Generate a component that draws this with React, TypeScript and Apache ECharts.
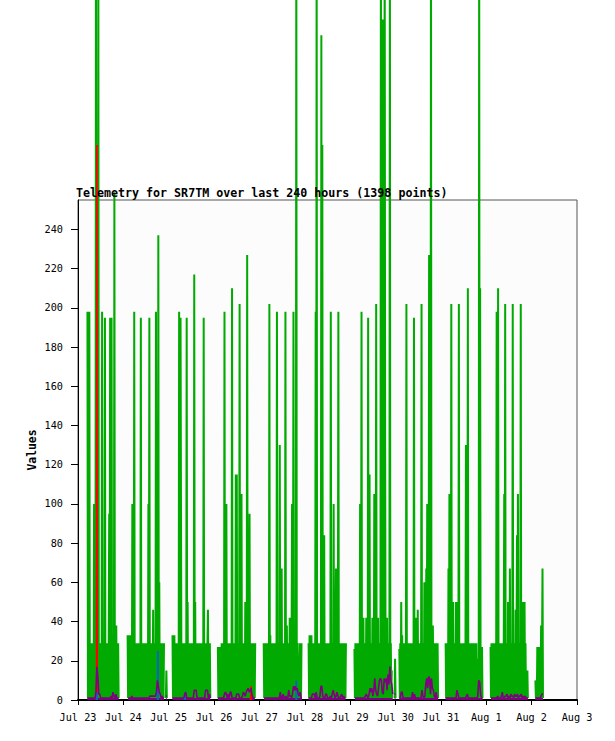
import React, { useEffect, useRef } from "react";
import * as echarts from "echarts";

const TITLE = "Telemetry for SR7TM over last 240 hours (1398 points)";
const Y_NAME = "Values";

// hours since Jul 23 00:00
const X_TICK_HOURS = [0, 24, 48, 72, 96, 120, 144, 168, 192, 216, 240, 264];
const X_TICK_LABELS = ["Jul 23", "Jul 24", "Jul 25", "Jul 26", "Jul 27", "Jul 28", "Jul 29", "Jul 30", "Jul 31", "Aug 1", "Aug 2", "Aug 3"];
const Y_TICKS = [0, 20, 40, 60, 80, 100, 120, 140, 160, 180, 200, 220, 240];

// green series: one character per 15-minute sample, segment start hours
const GREEN_STEP = 0.25;
const GREEN_LEVELS: Record<string, number> = {
  a: 1, d: 10, e: 15, f: 21, g: 26, h: 27, i: 33,
  A: 29, B: 38, C: 42, D: 46, E: 50, F: 60, G: 67, H: 77, I: 84, J: 95,
  K: 100, L: 105, M: 115, N: 130, O: 195, P: 198, Q: 202, R: 210, S: 217,
  T: 227, U: 237, V: 259, W: 283, X: 339, Y: 347, Z: 400,
};
const GREEN_STARTS = [5.0, 26.25, 46.5, 50.0, 74.0, 98.25, 122.0, 146.25, 167.5, 170.0, 194.5, 218.25, 242.0];
const GREEN_CODES = [
  "PaAaPaAaAa" + "AaAaKaAaZa" + "AaAZaAaAaA" + "aPaAaAaOaA" + "aAaAaAJaOa" + "NOaAaAaVaA" + "aBaAaAa",
  "iaiaiaiaAa" + "KaAaPaAaAa" + "AaAaAaAaOa" + "AaAaAaAaAa" + "AaAaKaOaAa" + "AaAaDaAaAa" + "PaHaAUaFag" + "aAaAaAaA",
  "aea",
  "iaiaiaAaAa" + "AaAaPaAOJa" + "AaAaAaAaAa" + "OaEaAaAaAa" + "AaAaAaSaEa" + "AaAaAaAaAa" + "AaAaAaOaAa" + "AaAaADaAaAa",
  "hahahahaAa" + "AaAaPaAaKa" + "AaAaAaAaAa" + "RaAaAaAaMa" + "MaAaAaQaAa" + "LaAaAaAaEa" + "AaTaAaAJaA" + "aAaAaAaAaA",
  "AaAaAaAaAa" + "AaQaiaAaAa" + "AaAaAaAaPa" + "AaAaNaAaGa" + "AaAaAaPaAB" + "aAaAaCaAaA" + "KaAPaAaAaZ" + "aAeaeaAaAaA",
  "AaiaAaiaAa" + "AaAaAPaZaA" + "aAaAaAaXaW" + "aAaIaAaAaA" + "aAaAaAaPaA" + "aAaKaEaAGa" + "AaAPaAaAaA" + "aAaAaAaAaA",
  "gaAagaAaAa" + "AaKaAPaAaC" + "aAaAaCaAaO" + "aAMaAaAaCa" + "AaLaAaQaAa" + "CaAaAaZaAa" + "YaAaZNaAaC" + "aAaAaZaAae",
  "afa",
  "gaAaEaiaAa" + "AaAaAQaAaA" + "aAaAaAaAaA" + "aOaAaCaAaD" + "aAaAaAaQaA" + "aAaFaAaGaK" + "aAaTaAaZaA" + "aBaAaAaAaAaAa",
  "AaAaAaGaLa" + "AaQaEaEaAa" + "AaEaEaAaQa" + "AaAaAaAaAa" + "AaANaAaRaA" + "aAaAaAaAaA" + "aAaAaAafaf" + "aZaRahaha",
  "haAahaAaAa" + "AaAPaARaAa" + "AaAaAaAaAL" + "aQaAaAaEaA" + "aGaAaAaQaA" + "aAaDaAIaLa" + "AaAaQaAaAE" + "aAEaAaeaea",
  "dadahahahahaBahGa",
];

// purple series: one base-36 digit per 30-minute sample
const PURPLE_STEP = 0.5;
const PURPLE_STARTS = [5.0, 26.5, 46.5, 50.0, 74.0, 98.5, 122.0, 146.5, 167.5, 170.0, 194.5, 218.5, 242.0];
const PURPLE_CODES = [
  "111111111" + "4hc33" + "11111111111" + "2142131" + "11",
  "1111" + "2" + "111111111111111111" + "2222222" + "4a743" + "1211",
  "22",
  "1111111111111" + "341" + "1111111" + "555" + "1" + "11111111" + "555" + "1" + "3" + "1",
  "1111111" + "343131441" + "1111" + "333111" + "24324564563111",
  "11111111111111111" + "41131121152213757563241" + "1",
  "1111" + "333141112772113311121353124211231211",
  "11111111111" + "2321364625b532" + "6aba43b9b5d8ha83",
  "33",
  "11" + "44" + "1111111111" + "4131" + "111111" + "5212" + "8b6cb3b65" + "21411",
  "111111111111" + "53" + "11111111" + "231" + "111111111" + "2a9311",
  "1111111" + "211124112231213221322312231212111",
  "111111233",
];

// sparse spikes of the blue and red series
const BLUE_HOURS = [10.0, 42.25, 56.5, 115.5];
const BLUE_VALUES = [4, 25, 4, 10];
const RED_HOURS = [10.0, 91.5];
const RED_VALUES = [283, 7];

const MONO = "'DejaVu Sans Mono', 'Liberation Mono', monospace";

function decodeSegments(starts: number[], codes: string[], step: number, toValue: (c: string) => number) {
  const out: any[] = [];
  starts.forEach((s, i) => {
    const str = codes[i];
    for (let k = 0; k < str.length; k++) out.push([s + k * step, toValue(str[k])]);
    out.push(["-", "-"]);
  });
  return out;
}

function spikes(hours: number[], values: number[]) {
  const out: any[] = [];
  hours.forEach((h, i) => {
    out.push([h - 0.12, 0], [h, values[i]], [h + 0.12, 0], ["-", "-"]);
  });
  return out;
}

export default function App() {
  const ref = useRef<HTMLDivElement>(null);
  useEffect(() => {
    if (!ref.current) return;
    const chart = echarts.init(ref.current, null, { renderer: "svg" });
    const green = decodeSegments(GREEN_STARTS, GREEN_CODES, GREEN_STEP, (c) => GREEN_LEVELS[c]);
    const purple = decodeSegments(PURPLE_STARTS, PURPLE_CODES, PURPLE_STEP, (c) => parseInt(c, 36));
    const blue = spikes(BLUE_HOURS, BLUE_VALUES);
    const red = spikes(RED_HOURS, RED_VALUES);
    const lineBase = { type: "line", showSymbol: false, symbol: "none", connectNulls: false, clip: false, silent: true };
    chart.setOption({
      animation: false,
      backgroundColor: "#ffffff",
      title: {
        text: TITLE,
        left: 76,
        top: 187,
        padding: 0,
        textStyle: { fontFamily: MONO, fontSize: 11.65, fontWeight: "bold", color: "#000" },
      },
      grid: {
        left: 78, right: 38, top: 200, bottom: 41,
        show: true, backgroundColor: "#fcfcfc", borderColor: "#555", borderWidth: 1,
      },
      xAxis: {
        type: "value", min: 0, max: 264, interval: 24,
        axisLine: { show: true, lineStyle: { color: "#000", width: 2 } },
        axisTick: { show: true, length: 5, lineStyle: { color: "#000", width: 1 }, customValues: X_TICK_HOURS },
        axisLabel: {
          customValues: X_TICK_HOURS,
          formatter: (v: number) => X_TICK_LABELS[X_TICK_HOURS.indexOf(Math.round(v))] ?? "",
          fontFamily: MONO, fontSize: 10.2, color: "#000", margin: 12,
        },
        splitLine: { show: false },
      },
      yAxis: {
        type: "value", min: 0, max: 255,
        axisLine: { show: true, lineStyle: { color: "#000", width: 1 } },
        axisTick: { show: true, length: 7, lineStyle: { color: "#000", width: 1 }, customValues: Y_TICKS },
        axisLabel: { customValues: Y_TICKS, fontFamily: MONO, fontSize: 10.2, color: "#000", margin: 15 },
        splitLine: { show: false },
      },
      graphic: [
        {
          type: "text", x: 32, y: 450, rotation: Math.PI / 2,
          style: { text: Y_NAME, fontFamily: MONO, fontSize: 11.4, fontWeight: "bold", fill: "#000", textAlign: "center", textVerticalAlign: "middle" },
        },
      ],
      series: [
        { ...lineBase, name: "green", data: green, lineStyle: { color: "#00aa00", width: 2 }, itemStyle: { color: "#00aa00" } },
        { ...lineBase, name: "red", data: red, lineStyle: { color: "#ff0000", width: 1.8 }, itemStyle: { color: "#ff0000" } },
        { ...lineBase, name: "blue", data: blue, lineStyle: { color: "#0a64c8", width: 1.8 }, itemStyle: { color: "#0a64c8" } },
        {
          ...lineBase, name: "purple", data: purple,
          lineStyle: { color: "#800080", width: 1.6 }, itemStyle: { color: "#800080" },
          areaStyle: { color: "#800080", opacity: 1, origin: 0 },
        },
      ],
    });
    return () => chart.dispose();
  }, []);
  return <div ref={ref} style={{ position: "absolute", left: 0, top: 0, width: 615, height: 741 }} />;
}
